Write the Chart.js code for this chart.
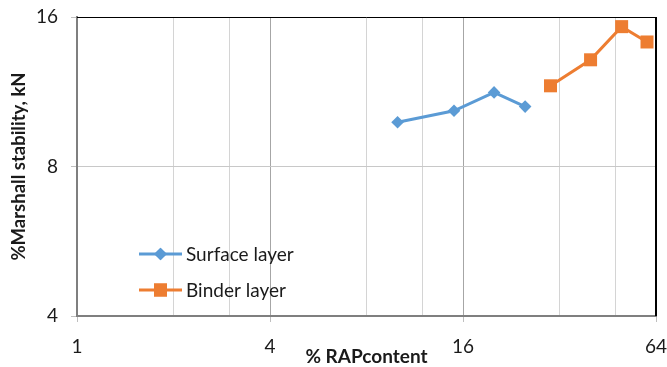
<!DOCTYPE html>
<html>
<head>
<meta charset="utf-8">
<title>Marshall stability vs RAP content</title>
<script src="https://cdn.jsdelivr.net/npm/chart.js@4.4.1/dist/chart.umd.min.js"></script>
<style>
  html, body { margin: 0; padding: 0; background: #ffffff; }
  #wrap { width: 667px; height: 367px; }
</style>
</head>
<body>
<div id="wrap"><canvas id="chart" width="667" height="367"></canvas></div>
<script>
// RAP content (%) and Marshall stability (kN) for each mix layer
const surfaceRap = [10, 15, 20, 25];
const surfaceStability = [9.82, 10.36, 11.28, 10.56];
const binderRap = [30, 40, 50, 60];
const binderStability = [11.63, 13.12, 15.3, 14.25];

// axis ticks: labelled majors plus the unlabelled 2x / 3x minor lines on x
const xMajorTicks = [1, 4, 16, 64];
const xMinorTicks = [2, 3, 8, 12, 32, 48];
const yTicks = [4, 8, 16];

const seriesNames = ['Surface layer', 'Binder layer'];
const BLUE = '#5B9BD5';
const ORANGE = '#ED7D31';
const FONT = 'Lato, "Open Sans", "Liberation Sans", sans-serif';

const toPoints = (xs, ys) => xs.map((x, i) => ({ x: x, y: ys[i] }));

// let the layout padding alone decide where the plot area sits
function zeroScalePadding(scale) {
  scale.paddingLeft = 0;
  scale.paddingRight = 0;
  scale.paddingTop = 0;
  scale.paddingBottom = 0;
}

// top and right edges of the plot frame
const frameEdges = {
  id: 'frameEdges',
  afterDatasetsDraw(chart) {
    const { ctx, chartArea: a } = chart;
    ctx.save();
    ctx.strokeStyle = '#000000';
    ctx.lineWidth = 1;
    ctx.beginPath();
    ctx.moveTo(a.left, a.top + 0.5);
    ctx.lineTo(a.right, a.top + 0.5);
    ctx.stroke();
    ctx.lineWidth = 2;
    ctx.beginPath();
    ctx.moveTo(a.right, a.top);
    ctx.lineTo(a.right, a.bottom);
    ctx.stroke();
    ctx.restore();
  }
};

// legend drawn inside the plot, lower left
const insideLegend = {
  id: 'insideLegend',
  afterDraw(chart) {
    const { ctx } = chart;
    const rows = [254, 290];
    ctx.save();
    chart.data.datasets.forEach((ds, i) => {
      const y = rows[i];
      ctx.strokeStyle = ds.borderColor;
      ctx.lineWidth = 3;
      ctx.beginPath();
      ctx.moveTo(139, y);
      ctx.lineTo(182, y);
      ctx.stroke();
      ctx.fillStyle = ds.backgroundColor;
      Chart.helpers.drawPoint(ctx, {
        pointStyle: ds.pointStyle,
        radius: ds.pointRadius,
        rotation: 0,
        borderWidth: 0
      }, 160.5, y);
      ctx.fill();
      ctx.fillStyle = '#1a1a1a';
      ctx.font = '19px ' + FONT;
      ctx.textBaseline = 'middle';
      ctx.textAlign = 'left';
      ctx.fillText(ds.label, 186, y + 1);
    });
    ctx.restore();
  }
};

new Chart(document.getElementById('chart'), {
  type: 'line',
  data: {
    datasets: [
      {
        label: seriesNames[0],
        data: toPoints(surfaceRap, surfaceStability),
        borderColor: BLUE,
        backgroundColor: BLUE,
        borderWidth: 3,
        pointStyle: 'rectRot',
        pointRadius: 6.3,
        pointBorderWidth: 0,
        pointHoverRadius: 6.3,
        clip: 14
      },
      {
        label: seriesNames[1],
        data: toPoints(binderRap, binderStability),
        borderColor: ORANGE,
        backgroundColor: ORANGE,
        borderWidth: 3,
        pointStyle: 'rect',
        pointRadius: 9.2,
        pointBorderWidth: 0,
        pointHoverRadius: 9.2,
        clip: 14
      }
    ]
  },
  options: {
    responsive: false,
    animation: false,
    events: [],
    layout: { padding: { left: 0, right: 11, top: 17, bottom: 0 } },
    plugins: {
      legend: { display: false },
      tooltip: { enabled: false }
    },
    scales: {
      x: {
        type: 'logarithmic',
        position: 'bottom',
        min: 1,
        max: 64,
        afterBuildTicks(scale) {
          scale.ticks = xMajorTicks.concat(xMinorTicks)
            .sort((a, b) => a - b)
            .map(v => ({ value: v, major: xMajorTicks.includes(v) }));
        },
        afterFit(scale) { scale.height = 51; zeroScalePadding(scale); },
        ticks: {
          autoSkip: false,
          maxRotation: 0,
          padding: 13,
          color: '#1a1a1a',
          font: { family: FONT, size: 19 },
          callback: v => (xMajorTicks.includes(v) ? String(v) : '')
        },
        grid: {
          color: c => (c.tick && xMajorTicks.includes(c.tick.value) ? '#a6a6a6' : '#d4d4d4'),
          lineWidth: 1,
          tickLength: 6,
          tickColor: c => (c.tick && xMajorTicks.includes(c.tick.value) ? '#bfbfbf' : 'rgba(0,0,0,0)')
        },
        border: { color: '#7f7f7f', width: 2 },
        title: {
          display: true,
          text: '% RAPcontent',
          color: '#1a1a1a',
          font: { family: FONT, size: 19, weight: 'bold' },
          padding: { top: 0, bottom: -1 }
        }
      },
      y: {
        type: 'logarithmic',
        min: 4,
        max: 16,
        afterBuildTicks(scale) {
          scale.ticks = yTicks.map(v => ({ value: v }));
        },
        afterFit(scale) { scale.width = 77; zeroScalePadding(scale); },
        ticks: {
          autoSkip: false,
          padding: 13,
          color: '#1a1a1a',
          font: { family: FONT, size: 19 },
          callback: v => String(v)
        },
        grid: {
          color: '#c8c8c8',
          lineWidth: 1,
          tickLength: 6,
          tickColor: '#bfbfbf'
        },
        border: { color: '#7f7f7f', width: 2 },
        title: {
          display: true,
          text: '%Marshall stability, kN',
          color: '#1a1a1a',
          font: { family: FONT, size: 18.5, weight: 'bold' },
          padding: { top: 8, bottom: 0 }
        }
      }
    }
  },
  plugins: [frameEdges, insideLegend]
});
</script>
</body>
</html>
